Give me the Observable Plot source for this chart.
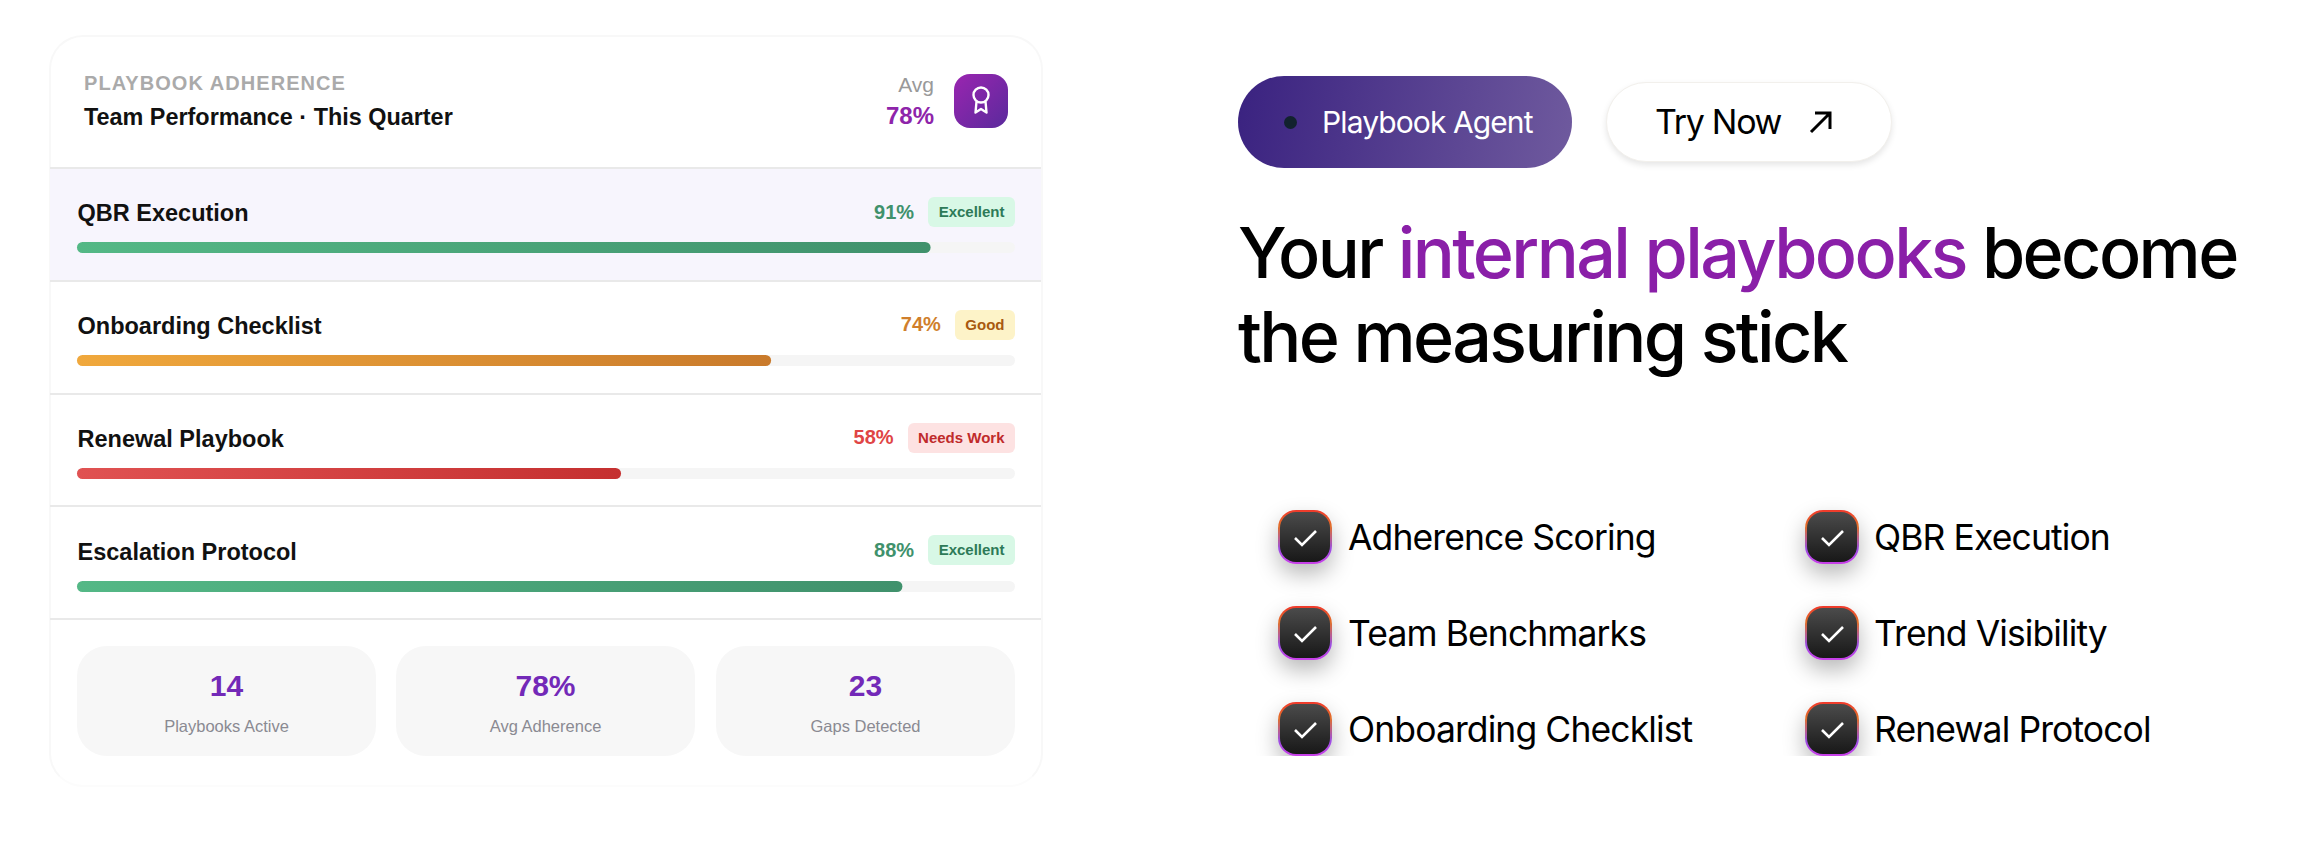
<!DOCTYPE html>
<html>
<head>
<meta charset="utf-8">
<script src="https://cdn.jsdelivr.net/npm/d3@7"></script>
<script src="https://cdn.jsdelivr.net/npm/@observablehq/plot@0.6"></script>
<style>
  html, body { margin: 0; background: #fff; }
  #page { position: relative; width: 2316px; height: 858px; overflow: hidden; font-family: "Liberation Sans", sans-serif; }
  #page > div, .abs { position: absolute; }
  #card { left: 49px; top: 35px; width: 990px; height: 748px; border: 2px solid #f8f8f8; border-bottom-color: #fcfcfc; border-radius: 34px; box-sizing: content-box; }
  .line { left: 50px; width: 991px; height: 2px; background: #e9e9e9; }
  .right { font-family: Inter, sans-serif; color: #000; white-space: nowrap; }
  .rowinfo { display: flex; align-items: center; justify-content: flex-end; width: 500px; left: 515px; height: 30px; gap: 14px; }
  .pct { font-size: 20px; font-weight: bold; }
  .badge { font-size: 15px; font-weight: bold; padding: 0 10.5px; line-height: 30px; height: 30px; border-radius: 6px; }
  .stat { top: 646px; height: 110px; background: #f7f7f7; border-radius: 30px; text-align: center; }
  .stat b { position: absolute; left: 0; right: 0; top: 22px; font-size: 30px; line-height: 36px; color: #7329b8; }
  .stat span { position: absolute; left: 0; right: 0; top: 69px; font-size: 16.5px; line-height: 22px; color: #8a8a92; }
  .chk { width: 50px; height: 50px; padding: 2px; border-radius: 18px; background: linear-gradient(180deg, #f0392b 0%, #e0702a 30%, #9a4fe0 72%, #c93fe8 100%); box-shadow: 0 10px 22px rgba(0,0,0,.28); }
  .chk i { display: block; width: 50px; height: 50px; border-radius: 16px; background: linear-gradient(180deg, #4b4b4b, #181818); }
  .chk svg { display: block; position: absolute; left: 2px; top: 2px; }
  .item { font-size: 35.5px; line-height: 44px; letter-spacing: -.9px; }
</style>
</head>
<body>
<div id="page">
  <div id="card"></div>
  <div style="left:50px;top:169px;width:991px;height:112px;background:#f7f5fd"></div>

  <div style="left:84px;top:71px;font-size:20px;font-weight:bold;letter-spacing:1.05px;color:#aaa;line-height:24px">PLAYBOOK ADHERENCE</div>
  <div style="left:84px;top:102px;font-size:23.4px;font-weight:bold;color:#111;line-height:30px">Team Performance · This Quarter</div>
  <div style="right:1382px;top:72px;font-size:21px;color:#999;line-height:26px">Avg</div>
  <div style="right:1382px;top:102px;font-size:24px;font-weight:bold;color:#8e24aa;line-height:28px">78%</div>
  <div style="left:954px;top:74px;width:54px;height:54px;border-radius:16px;background:linear-gradient(135deg,#9a25b0,#5a2a9c)">
    <svg width="54" height="54" viewBox="0 0 54 54" fill="none" stroke="#fff" stroke-width="2.4" stroke-linejoin="round">
      <circle cx="27" cy="21" r="7.5"/>
      <path d="M22.5 27.5 L21.5 38.5 L27 35 L32.5 38.5 L31.5 27.5"/>
    </svg>
  </div>

  <div class="right" style="left:1238px;top:76px;width:334px;height:92px;border-radius:46px;background:linear-gradient(100deg,#3a2280,#6f5a9e)"></div>
  <div class="right" style="left:1284px;top:116px;width:13px;height:13px;border-radius:50%;background:#12222e"></div>
  <div class="right" style="left:1322px;top:102px;font-size:30px;line-height:40px;color:#fff;letter-spacing:-.9px">Playbook Agent</div>
  <div class="right" style="left:1605.5px;top:82px;width:284px;height:78px;border-radius:40px;background:#fff;border:1px solid #f2f0ec;box-shadow:0 3px 6px rgba(0,0,0,.1)"></div>
  <div class="right" style="left:1655px;top:100px;font-size:34px;line-height:44px;letter-spacing:-1.3px">Try Now</div>
  <div class="right" style="left:1806px;top:107px">
    <svg width="30" height="30" viewBox="0 0 30 30" fill="none" stroke="#000" stroke-width="3"><path d="M5 25 L24 6 M9 6 H24 V22"/></svg>
  </div>
  <div class="right" style="left:1238px;top:211px;font-size:70px;line-height:84px;letter-spacing:-2.6px;font-weight:450">Your <span style="color:#8a1fa8">internal playbooks</span> become<br>the measuring stick</div>
  <div id="checks" style="left:1230px;top:480px;width:1000px;height:276px;overflow:hidden"></div>

  <div class="line" style="top:167px"></div>
  <div class="line" style="top:280px"></div>
  <div class="line" style="top:393px"></div>
  <div class="line" style="top:505px"></div>
  <div class="line" style="top:618px"></div>
  <div id="rows" style="left:0;top:0"></div>
  <div id="stats" style="left:0;top:0"></div>
  <div id="chart" style="left:50px;top:168px"></div>
</div>

<script>
const playbooks = ['QBR Execution', 'Onboarding Checklist', 'Renewal Playbook', 'Escalation Protocol']
const adherence = [91, 74, 58, 88]
const ratings = ['Excellent', 'Good', 'Needs Work', 'Excellent']

const ratingColors = {
  'Excellent': { pct: '#40916c', bg: '#d8f8e6', text: '#2d7a58', gradient: 'url(#grad-green)' },
  'Good': { pct: '#d07f2c', bg: '#fdf3c8', text: '#a8590f', gradient: 'url(#grad-amber)' },
  'Needs Work': { pct: '#e04545', bg: '#fde2e2', text: '#c02b2b', gradient: 'url(#grad-red)' },
}

const statValues = ['14', '78%', '23']
const statLabels = ['Playbooks Active', 'Avg Adherence', 'Gaps Detected']

const checkLeft = ['Adherence Scoring', 'Team Benchmarks', 'Onboarding Checklist']
const checkRight = ['QBR Execution', 'Trend Visibility', 'Renewal Protocol']

const data = playbooks.map((name, i) => ({ name, value: adherence[i], rating: ratings[i] }))
const font = '"Liberation Sans", sans-serif'

function gradients() {
  const defs = d3.create('svg:defs')
  const stops = { green: ['#54b886', '#40916c'], amber: ['#f0a83c', '#c97a2b'], red: ['#e05252', '#c53030'] }
  for (const key in stops) {
    const g = defs.append('linearGradient').attr('id', 'grad-' + key)
    g.append('stop').attr('offset', '0%').attr('stop-color', stops[key][0])
    g.append('stop').attr('offset', '100%').attr('stop-color', stops[key][1])
  }
  return defs.node()
}

let chart = Plot.plot({
  width: 995,
  height: 452,
  marginTop: 0, marginRight: 0, marginBottom: 0, marginLeft: 0,
  x: { domain: [0, 100], range: [27, 965], axis: null },
  y: { domain: playbooks, range: [0, 452], padding: 0, axis: null },
  color: { type: 'identity' },
  style: { background: 'transparent', overflow: 'visible' },
  marks: [
    gradients,
    // track behind every bar
    Plot.barX(data, { x1: () => 0, x2: () => 100, y: 'name', fill: '#f5f5f5', insetTop: 74, insetBottom: 28, rx: 5.5 }),
    Plot.barX(data, { x: 'value', y: 'name', fill: d => ratingColors[d.rating].gradient, insetTop: 74, insetBottom: 28, rx: 5.5 }),
    Plot.text(data, { x: () => 0, y: 'name', text: 'name', textAnchor: 'start', dy: -12, fontSize: 23.5, fontWeight: 'bold', fontFamily: font, fill: '#111' }),
  ],
})
d3.select('#chart').append(() => chart)

// percent and rating badge, one line per row
const rows = d3.select('#rows')
data.forEach((d, i) => {
  const c = ratingColors[d.rating]
  const row = rows.append('div').attr('class', 'abs rowinfo').style('top', (197 + i * 112.8) + 'px')
  row.append('span').attr('class', 'pct').style('color', c.pct).text(d.value + '%')
  row.append('span').attr('class', 'badge').style('background', c.bg).style('color', c.text).text(d.rating)
})

const statX = [77, 396, 716]
statValues.forEach((v, i) => {
  const s = d3.select('#stats').append('div').attr('class', 'abs stat').style('left', statX[i] + 'px').style('width', '299px')
  s.append('b').text(v)
  s.append('span').text(statLabels[i])
})

function addCheck(label, left, top, textLeft) {
  const icon = d3.select('#checks').append('div').attr('class', 'abs chk').style('left', left + 'px').style('top', top + 'px')
  icon.append('i')
  icon.html(icon.html() + '<svg width="50" height="50" viewBox="0 0 50 50" fill="none" stroke="#fff" stroke-width="2.6"><path d="M15 26 L22 33 L36 19"/></svg>')
  d3.select('#checks').append('div').attr('class', 'abs right item')
    .style('left', (left + textLeft) + 'px').style('top', (top + 6) + 'px').text(label)
}
checkLeft.forEach((t, i) => addCheck(t, 48, 30 + i * 96, 70))
checkRight.forEach((t, i) => addCheck(t, 575, 30 + i * 96, 69))
</script>
</body>
</html>
